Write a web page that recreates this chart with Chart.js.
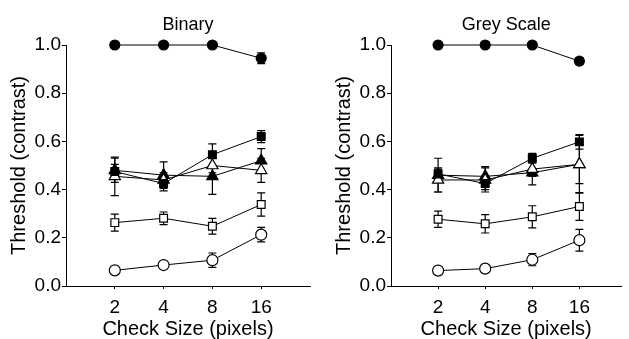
<!DOCTYPE html>
<html>
<head>
<meta charset="utf-8">
<script src="https://cdn.jsdelivr.net/npm/chart.js@4.4.0/dist/chart.umd.min.js"></script>
<style>
  html, body { margin: 0; padding: 0; background: #fff; }
  #wrap { position: relative; width: 629px; height: 339px; overflow: hidden; }
  .panel { position: absolute; top: 0; height: 339px; }
  #left { left: 0; width: 325px; }
  #right { left: 325px; width: 304px; }
</style>
</head>
<body>
<div id="wrap">
  <div class="panel" id="left"><canvas id="binary" width="325" height="339"></canvas></div>
  <div class="panel" id="right"><canvas id="grey" width="304" height="339"></canvas></div>
</div>
<script>
// x categories and y ticks
const checkSizes = ['2', '4', '8', '16'];
const yTicks = [0, 0.2, 0.4, 0.6, 0.8, 1.0];

// Binary panel (values, then +/- error)
const binFilledCircle = [1.0, 1.0, 1.0, 0.945];
const binFilledCircleErr = [0, 0, 0, 0.022];
const binFilledSquare = [0.475, 0.425, 0.545, 0.62];
const binFilledSquareErr = [0.03, 0.03, 0.045, 0.025];
const binFilledTriangle = [0.48, 0.46, 0.455, 0.52];
const binFilledTriangleErr = [0.05, 0.055, 0.075, 0.05];
const binOpenTriangle = [0.455, 0.44, 0.50, 0.48];
const binOpenTriangleErr = [0.08, 0.03, 0.03, 0.05];
const binOpenSquare = [0.263, 0.281, 0.248, 0.338];
const binOpenSquareErr = [0.035, 0.026, 0.033, 0.048];
const binOpenCircle = [0.065, 0.087, 0.107, 0.213];
const binOpenCircleErr = [0.012, 0.008, 0.03, 0.03];

// Grey scale panel
const greyFilledCircle = [1.0, 1.0, 1.0, 0.933];
const greyFilledCircleErr = [0, 0, 0, 0.015];
const greyFilledSquare = [0.465, 0.425, 0.53, 0.598];
const greyFilledSquareErr = [0.02, 0.025, 0.02, 0.03];
const greyFilledTriangle = [0.46, 0.455, 0.47, 0.505];
const greyFilledTriangleErr = [0.07, 0.04, 0.05, 0.08];
const greyOpenTriangle = [0.44, 0.44, 0.485, 0.505];
const greyOpenTriangleErr = [0.05, 0.05, 0.03, 0.12];
const greyOpenSquare = [0.277, 0.258, 0.287, 0.33];
const greyOpenSquareErr = [0.034, 0.038, 0.046, 0.058];
const greyOpenCircle = [0.064, 0.072, 0.109, 0.19];
const greyOpenCircleErr = [0.01, 0.006, 0.025, 0.045];

Chart.defaults.font.family = '"Liberation Sans", Arial, sans-serif';
Chart.defaults.color = '#000';

// marker styles, first one ends up on top
const markers = [
  { style: 'circle', filled: true, r: 5 },
  { style: 'rect', filled: true, r: 5.5 },
  { style: 'triangle', filled: false, r: 6.5 },
  { style: 'triangle', filled: true, r: 6.5 },
  { style: 'rect', filled: false, r: 5.5 },
  { style: 'circle', filled: false, r: 5.5 }
];

// vertical error bars with caps, drawn under the markers
const errorBars = {
  id: 'errorBars',
  beforeDatasetsDraw(chart) {
    const ctx = chart.ctx;
    const xs = chart.scales.x, ys = chart.scales.y;
    ctx.save();
    ctx.strokeStyle = '#000';
    ctx.lineWidth = 1.2;
    chart.data.datasets.forEach(ds => {
      ds.data.forEach((p, i) => {
        const e = ds.errors[i];
        if (!e) return;
        const x = xs.getPixelForValue(p.x);
        const y1 = ys.getPixelForValue(p.y + e);
        const y2 = ys.getPixelForValue(p.y - e);
        ctx.beginPath();
        ctx.moveTo(x, y1); ctx.lineTo(x, y2);
        ctx.moveTo(x - 4, y1); ctx.lineTo(x + 4, y1);
        ctx.moveTo(x - 4, y2); ctx.lineTo(x + 4, y2);
        ctx.stroke();
      });
    });
    ctx.restore();
  }
};

function makeDatasets(series) {
  return series.map((s, k) => {
    const m = markers[k];
    return {
      data: s[0].map((v, i) => ({ x: i + 2, y: v })),
      errors: s[1],
      borderColor: '#000',
      borderWidth: 1,
      tension: 0,
      clip: false,
      pointStyle: m.style,
      pointRadius: m.r,
      pointBorderWidth: 1.2,
      pointBorderColor: '#000',
      pointBackgroundColor: m.filled ? '#000' : '#fff'
    };
  });
}

function makeChart(id, title, series, xMax, padRight) {
  return new Chart(document.getElementById(id), {
    type: 'line',
    data: { datasets: makeDatasets(series) },
    options: {
      responsive: false,
      animation: false,
      layout: { padding: { left: 0, right: padRight, top: 0, bottom: 0 } },
      plugins: {
        legend: { display: false },
        tooltip: { enabled: false },
        title: {
          display: true, text: title, fullSize: false,
          font: { size: 18, weight: 'normal' }, color: '#000',
          padding: { top: 14, bottom: 9.4 }
        }
      },
      scales: {
        x: {
          type: 'linear', min: 1, max: xMax,
          afterBuildTicks: s => { s.ticks = checkSizes.map((_, i) => ({ value: i + 2 })); },
          afterFit: s => { s.height = 53; },
          ticks: { callback: (v, i) => checkSizes[i], font: { size: 19 }, color: '#000', padding: 7, maxRotation: 0, autoSkip: false },
          grid: { drawOnChartArea: false, tickLength: 3, color: '#000' },
          border: { color: '#000', width: 1 },
          title: { display: true, text: 'Check Size (pixels)', font: { size: 20, lineHeight: 1.0 }, color: '#000', padding: 0 }
        },
        y: {
          min: 0, max: 1,
          afterBuildTicks: s => { s.ticks = yTicks.map(v => ({ value: v })); },
          afterFit: s => { s.width = 66; },
          ticks: { callback: v => v.toFixed(1), font: { size: 19 }, color: '#000', padding: 1 },
          grid: { drawOnChartArea: false, tickLength: 4, color: '#000' },
          border: { color: '#000', width: 1 },
          title: { display: true, text: 'Threshold (contrast)', font: { size: 20 }, color: '#000', padding: { top: 7, bottom: 0 } }
        }
      }
    },
    plugins: [errorBars]
  });
}

makeChart('binary', 'Binary', [
  [binFilledCircle, binFilledCircleErr],
  [binFilledSquare, binFilledSquareErr],
  [binOpenTriangle, binOpenTriangleErr],
  [binFilledTriangle, binFilledTriangleErr],
  [binOpenSquare, binOpenSquareErr],
  [binOpenCircle, binOpenCircleErr]
], 6, 15);

makeChart('grey', 'Grey Scale', [
  [greyFilledCircle, greyFilledCircleErr],
  [greyFilledSquare, greyFilledSquareErr],
  [greyOpenTriangle, greyOpenTriangleErr],
  [greyFilledTriangle, greyFilledTriangleErr],
  [greyOpenSquare, greyOpenSquareErr],
  [greyOpenCircle, greyOpenCircleErr]
], 5.89, 0);
</script>
</body>
</html>
